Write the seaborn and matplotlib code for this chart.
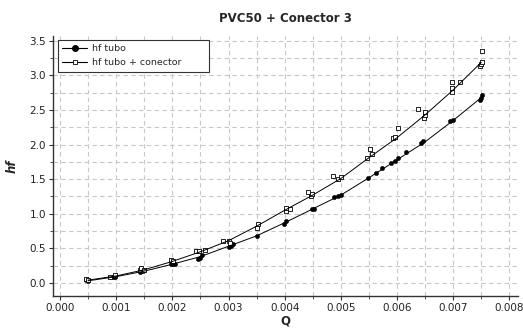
import numpy as np
import pandas as pd
import matplotlib
matplotlib.use("Agg")
import matplotlib.pyplot as plt
import seaborn as sns
from matplotlib.ticker import MultipleLocator

# pontos medidos - tubo
q_tubo = [0.00047, 0.00049, 0.00095, 0.00098, 0.00143, 0.00148, 0.00150, 0.00198, 0.00202, 0.00205,
          0.00245, 0.00249, 0.00253, 0.00300, 0.00305, 0.00308, 0.00350, 0.00398, 0.00402,
          0.00448, 0.00452, 0.00488, 0.00495, 0.00500, 0.00549, 0.00562, 0.00574, 0.00590,
          0.00596, 0.00601, 0.00616, 0.00642, 0.00646, 0.00695, 0.00700, 0.00748, 0.00750, 0.00752]
hf_tubo = [0.04, 0.03, 0.08, 0.09, 0.16, 0.17, 0.18, 0.27, 0.28, 0.28,
           0.35, 0.36, 0.40, 0.52, 0.54, 0.56, 0.68, 0.85, 0.89,
           1.07, 1.07, 1.24, 1.26, 1.27, 1.52, 1.59, 1.66, 1.74,
           1.77, 1.80, 1.89, 2.03, 2.05, 2.34, 2.36, 2.64, 2.68, 2.72]

# pontos medidos - tubo + conector
q_con = [0.00047, 0.00049, 0.00089, 0.00098, 0.00143, 0.00145, 0.00150, 0.00198, 0.00202,
         0.00243, 0.00248, 0.00259, 0.00291, 0.00301, 0.00302, 0.00350, 0.00353, 0.00402, 0.00402, 0.00410,
         0.00441, 0.00446, 0.00448, 0.00486, 0.00495, 0.00500, 0.00547, 0.00552, 0.00556,
         0.00592, 0.00596, 0.00602, 0.00638, 0.00648, 0.00650, 0.00650, 0.00698, 0.00698, 0.00698, 0.00712,
         0.00748, 0.00750, 0.00751, 0.00751]
hf_con = [0.05, 0.04, 0.08, 0.11, 0.19, 0.22, 0.19, 0.33, 0.31,
          0.46, 0.46, 0.48, 0.61, 0.61, 0.58, 0.80, 0.85, 1.04, 1.09, 1.07,
          1.31, 1.26, 1.28, 1.55, 1.50, 1.53, 1.81, 1.93, 1.86,
          2.09, 2.11, 2.24, 2.51, 2.39, 2.43, 2.47, 2.76, 2.82, 2.90, 2.90,
          3.14, 3.17, 3.20, 3.35]

# curvas
q_curva = [0.0005, 0.001, 0.0015, 0.002, 0.0025, 0.003, 0.0035, 0.004, 0.0045, 0.005,
           0.0055, 0.006, 0.0065, 0.007, 0.0075]
hf_curva_tubo = [0.03, 0.09, 0.17, 0.27, 0.38, 0.53, 0.68, 0.87, 1.07, 1.27,
                 1.52, 1.78, 2.04, 2.35, 2.68]
hf_curva_con = [0.04, 0.10, 0.19, 0.31, 0.45, 0.61, 0.82, 1.05, 1.27, 1.51,
                1.81, 2.10, 2.43, 2.79, 3.19]

sns.set_style("white")
plt.rcParams['font.family'] = ['DejaVu Sans']

fig = plt.figure(figsize=(5.23, 3.31), dpi=100)
ax = fig.add_axes([0.1013, 0.1057, 0.8887, 0.7853])

sns.lineplot(x=q_curva, y=hf_curva_tubo, color='black', lw=0.7, ax=ax)
sns.lineplot(x=q_curva, y=hf_curva_con, color='black', lw=0.7, ax=ax)
sns.scatterplot(x=q_tubo, y=hf_tubo, marker='o', s=9, color='black', edgecolor='black', linewidth=0.4, ax=ax)
sns.scatterplot(x=q_con, y=hf_con, marker='s', s=8, facecolor='white', edgecolor='black', linewidth=0.6, ax=ax)

# legenda
h1 = plt.Line2D([], [], color='black', lw=0.8, marker='o', markersize=4, label='hf tubo')
h2 = plt.Line2D([], [], color='black', lw=0.8, marker='s', markersize=3.5, markerfacecolor='white',
                markeredgewidth=0.6, label='hf tubo + conector')
leg = ax.legend(handles=[h1, h2], loc='upper left', bbox_to_anchor=(0.0108, 0.8615, 0.3247, 0.1235),
                mode='expand', fontsize=6.8,
                frameon=True, fancybox=False, framealpha=1, edgecolor='#333333',
                handlelength=2.6, borderpad=0.45, labelspacing=0.55, handletextpad=0.5, borderaxespad=0)
leg.get_frame().set_linewidth(0.8)

ax.set_xlim(-0.000125, 0.00815)
ax.set_ylim(-0.19, 3.57)
ax.xaxis.set_major_locator(MultipleLocator(0.001))
ax.xaxis.set_minor_locator(MultipleLocator(0.0005))
ax.yaxis.set_major_locator(MultipleLocator(0.5))
ax.yaxis.set_minor_locator(MultipleLocator(0.25))
ax.xaxis.set_major_formatter(matplotlib.ticker.FormatStrFormatter('%.3f'))
ax.yaxis.set_major_formatter(matplotlib.ticker.FormatStrFormatter('%.1f'))

ax.grid(True, which='both', color='#c8c8c8', linestyle=(0, (4, 3)), linewidth=0.8)
ax.set_axisbelow(True)
for s in ['top', 'right']:
    ax.spines[s].set_visible(False)
for s in ['left', 'bottom']:
    ax.spines[s].set_color('#333333')
    ax.spines[s].set_linewidth(1.0)

ax.tick_params(which='major', direction='out', length=3, width=0.8, labelsize=7.5, colors='#333333',
               labelcolor='#222222', pad=2)
ax.tick_params(which='minor', direction='out', length=2, width=0.6, colors='#333333')
ax.tick_params(axis='x', which='both', bottom=True)
ax.tick_params(axis='y', which='both', left=True)

ax.set_title('PVC50 + Conector 3', fontsize=8.5, fontweight='bold', pad=10)
ax.set_xlabel('Q', fontsize=8.5, fontweight='bold', labelpad=1)
ax.set_ylabel('hf', fontsize=8.5, fontweight='bold', style='italic', labelpad=8)

fig.savefig('out.png', dpi=100)
